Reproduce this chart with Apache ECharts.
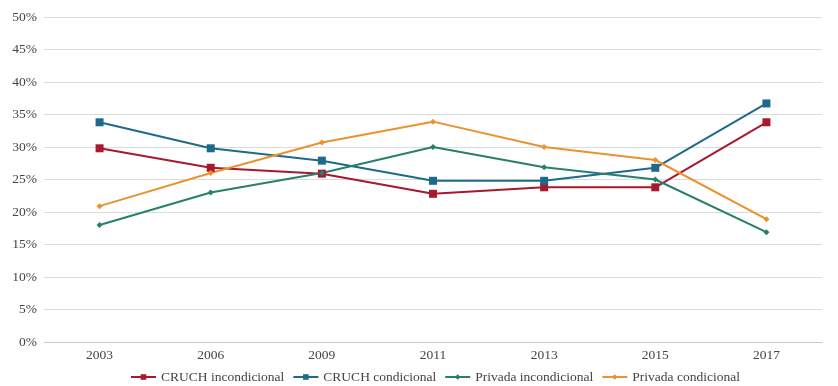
<!DOCTYPE html>
<html><head><meta charset="utf-8">
<script src="https://cdn.jsdelivr.net/npm/echarts@6/dist/echarts.min.js"></script>
<style>html,body{margin:0;padding:0;background:#fff}#c{width:838px;height:386px}</style>
</head><body><div id="c"></div>
<script>
const categories = ['2003','2006','2009','2011','2013','2015','2017'];
const cruchIncond = [29.8, 26.8, 25.9, 22.8, 23.8, 23.8, 33.8];
const cruchCond = [33.8, 29.8, 27.9, 24.8, 24.8, 26.8, 36.7];
const privIncond = [18.0, 23.0, 26.0, 30.0, 26.9, 25.0, 16.9];
const privCond = [20.9, 26.0, 30.7, 33.9, 30.0, 28.0, 18.9];
const yTicks = [0,5,10,15,20,25,30,35,40,45,50];

const font = '"Liberation Serif", "DejaVu Serif", serif';
function mk(name, data, color, symbol, size){
  return {name, type:'line', data, symbol, symbolSize:size, showSymbol:true,
    lineStyle:{color, width:2}, itemStyle:{color}, emphasis:{disabled:true}};
}
const chart = echarts.init(document.getElementById('c'), null, {renderer:'canvas'});
chart.setOption({
  animation:false,
  grid:{left:44, right:16, top:17, bottom:44},
  legend:{bottom:2, left:130, padding:0, itemWidth:25, itemHeight:7, itemGap:8,
    textStyle:{fontFamily:font, fontSize:13.5, color:'#444'},
    data:['CRUCH incondicional','CRUCH condicional','Privada incondicional','Privada condicional']},
  xAxis:{type:'category', data:categories, boundaryGap:true,
    axisLine:{lineStyle:{color:'#c8c8c8'}}, axisTick:{show:false},
    axisLabel:{fontFamily:font, fontSize:13.5, color:'#444', margin:6}},
  yAxis:{type:'value', min:yTicks[0], max:yTicks[yTicks.length-1], interval:5,
    axisLine:{show:false}, axisTick:{show:false},
    splitLine:{lineStyle:{color:'#d8dcdf', width:1}},
    axisLabel:{fontFamily:font, fontSize:13.5, color:'#444', formatter:'{value}%', margin:7}},
  series:[
    mk('CRUCH incondicional', cruchIncond, '#A8182E', 'rect', 8),
    mk('CRUCH condicional', cruchCond, '#1C6B8A', 'rect', 8),
    mk('Privada incondicional', privIncond, '#27806A', 'diamond', 6),
    mk('Privada condicional', privCond, '#EA922D', 'diamond', 6)
  ]
});
</script></body></html>
